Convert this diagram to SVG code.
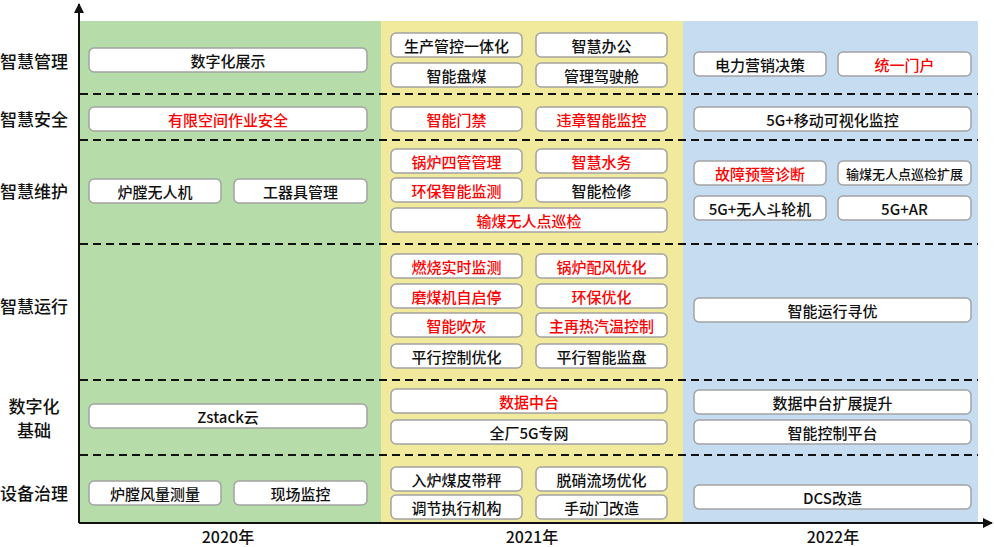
<svg xmlns="http://www.w3.org/2000/svg" width="994" height="547" viewBox="0 0 994 547">
<defs>
<style>
.bx{fill:#fff;stroke:#a3a3a3;stroke-width:1.5}
.t{font-family:"Noto Sans CJK SC","Noto Sans",sans-serif;font-size:15px;font-weight:500;text-anchor:middle;dominant-baseline:central;fill:#111}
.r{fill:#ff0000}
.s{font-size:13px}
.lab{font-family:"Noto Sans CJK SC","Noto Sans",sans-serif;font-size:17px;font-weight:500;text-anchor:middle;dominant-baseline:central;fill:#111}
.yr{font-family:"Noto Sans CJK SC","Noto Sans",sans-serif;font-size:16px;font-weight:500;text-anchor:middle;dominant-baseline:central;fill:#111}
.dash{stroke:#111;stroke-width:2;stroke-dasharray:8 5;fill:none}
.ax{stroke:#111;stroke-width:2;fill:none}
</style>
<marker id="arr" viewBox="0 0 10 10" refX="9" refY="5" markerWidth="5" markerHeight="5" orient="auto">
<path d="M0,0 L10,5 L0,10 z" fill="#111"/>
</marker>
</defs>
<rect width="994" height="547" fill="#fff"/>
<g id="backgrounds">
<rect x="80" y="21" width="301" height="502" fill="#b6dca9"/>
<rect x="381" y="21" width="302" height="502" fill="#f1ea9c"/>
<rect x="683" y="21" width="295" height="502" fill="#c6ddf1"/>
</g>
<g id="separators">
<line class="dash" x1="80" y1="94" x2="978" y2="94"/>
<line class="dash" x1="80" y1="140" x2="978" y2="140"/>
<line class="dash" x1="80" y1="244" x2="978" y2="244"/>
<line class="dash" x1="80" y1="380" x2="978" y2="380"/>
<line class="dash" x1="80" y1="455" x2="978" y2="455"/>
</g>
<g id="connectors">
<line class="ax" x1="79" y1="523" x2="79" y2="4" marker-end="url(#arr)"/>
<line class="ax" x1="79" y1="523" x2="992" y2="523" marker-end="url(#arr)"/>
</g>
<g id="row-labels">
<text class="lab" x="34" y="60">智慧管理</text>
<text class="lab" x="34" y="118">智慧安全</text>
<text class="lab" x="34" y="190">智慧维护</text>
<text class="lab" x="34" y="305">智慧运行</text>
<text class="lab" x="34" y="405">数字化</text>
<text class="lab" x="34" y="429">基础</text>
<text class="lab" x="34" y="492">设备治理</text>
</g>
<g id="year-labels">
<text class="yr" x="228" y="536">2020年</text>
<text class="yr" x="532" y="536">2021年</text>
<text class="yr" x="833" y="536">2022年</text>
</g>
<g id="n2020-1"><rect class="bx" x="89" y="48" width="278" height="24" rx="5"/><text class="t" x="228" y="60">数字化展示</text></g>
<g id="n2020-2"><rect class="bx" x="89" y="107" width="278" height="24" rx="5"/><text class="t r" x="228" y="119">有限空间作业安全</text></g>
<g id="n2020-3"><rect class="bx" x="89" y="179" width="132" height="24" rx="5"/><text class="t" x="155" y="191">炉膛无人机</text></g>
<g id="n2020-4"><rect class="bx" x="234" y="179" width="133" height="24" rx="5"/><text class="t" x="300.5" y="191">工器具管理</text></g>
<g id="n2020-5"><rect class="bx" x="89" y="404" width="278" height="24" rx="5"/><text class="t" x="228" y="416">Zstack云</text></g>
<g id="n2020-6"><rect class="bx" x="89" y="481" width="132" height="24" rx="5"/><text class="t" x="155" y="493">炉膛风量测量</text></g>
<g id="n2020-7"><rect class="bx" x="234" y="481" width="133" height="24" rx="5"/><text class="t" x="300.5" y="493">现场监控</text></g>

<g id="n2021-1"><rect class="bx" x="391" y="33" width="131" height="24" rx="5"/><text class="t" x="456.5" y="45">生产管控一体化</text></g>
<g id="n2021-2"><rect class="bx" x="536" y="33" width="131" height="24" rx="5"/><text class="t" x="601.5" y="45">智慧办公</text></g>
<g id="n2021-3"><rect class="bx" x="391" y="63" width="131" height="24" rx="5"/><text class="t" x="456.5" y="75">智能盘煤</text></g>
<g id="n2021-4"><rect class="bx" x="536" y="63" width="131" height="24" rx="5"/><text class="t" x="601.5" y="75">管理驾驶舱</text></g>
<g id="n2021-5"><rect class="bx" x="391" y="107" width="131" height="24" rx="5"/><text class="t r" x="456.5" y="119">智能门禁</text></g>
<g id="n2021-6"><rect class="bx" x="536" y="107" width="131" height="24" rx="5"/><text class="t r" x="601.5" y="119">违章智能监控</text></g>
<g id="n2021-7"><rect class="bx" x="391" y="149" width="131" height="24" rx="5"/><text class="t r" x="456.5" y="161">锅炉四管管理</text></g>
<g id="n2021-8"><rect class="bx" x="536" y="149" width="131" height="24" rx="5"/><text class="t r" x="601.5" y="161">智慧水务</text></g>
<g id="n2021-9"><rect class="bx" x="391" y="178" width="131" height="24" rx="5"/><text class="t r" x="456.5" y="190">环保智能监测</text></g>
<g id="n2021-10"><rect class="bx" x="536" y="178" width="131" height="24" rx="5"/><text class="t" x="601.5" y="190">智能检修</text></g>
<g id="n2021-11"><rect class="bx" x="391" y="208" width="276" height="24" rx="5"/><text class="t r" x="529" y="220">输煤无人点巡检</text></g>
<g id="n2021-12"><rect class="bx" x="391" y="254" width="131" height="24" rx="5"/><text class="t r" x="456.5" y="266">燃烧实时监测</text></g>
<g id="n2021-13"><rect class="bx" x="536" y="254" width="131" height="24" rx="5"/><text class="t r" x="601.5" y="266">锅炉配风优化</text></g>
<g id="n2021-14"><rect class="bx" x="391" y="284" width="131" height="24" rx="5"/><text class="t r" x="456.5" y="296">磨煤机自启停</text></g>
<g id="n2021-15"><rect class="bx" x="536" y="284" width="131" height="24" rx="5"/><text class="t r" x="601.5" y="296">环保优化</text></g>
<g id="n2021-16"><rect class="bx" x="391" y="313" width="131" height="24" rx="5"/><text class="t r" x="456.5" y="325">智能吹灰</text></g>
<g id="n2021-17"><rect class="bx" x="536" y="313" width="131" height="24" rx="5"/><text class="t r" x="601.5" y="325">主再热汽温控制</text></g>
<g id="n2021-18"><rect class="bx" x="391" y="344" width="131" height="24" rx="5"/><text class="t" x="456.5" y="356">平行控制优化</text></g>
<g id="n2021-19"><rect class="bx" x="536" y="344" width="131" height="24" rx="5"/><text class="t" x="601.5" y="356">平行智能监盘</text></g>
<g id="n2021-20"><rect class="bx" x="391" y="389" width="276" height="24" rx="5"/><text class="t r" x="529" y="401">数据中台</text></g>
<g id="n2021-21"><rect class="bx" x="391" y="420" width="276" height="24" rx="5"/><text class="t" x="529" y="432">全厂5G专网</text></g>
<g id="n2021-22"><rect class="bx" x="391" y="467" width="131" height="24" rx="5"/><text class="t" x="456.5" y="479">入炉煤皮带秤</text></g>
<g id="n2021-23"><rect class="bx" x="536" y="467" width="131" height="24" rx="5"/><text class="t" x="601.5" y="479">脱硝流场优化</text></g>
<g id="n2021-24"><rect class="bx" x="391" y="495" width="131" height="24" rx="5"/><text class="t" x="456.5" y="507">调节执行机构</text></g>
<g id="n2021-25"><rect class="bx" x="536" y="495" width="131" height="24" rx="5"/><text class="t" x="601.5" y="507">手动门改造</text></g>

<g id="n2022-1"><rect class="bx" x="694" y="52" width="132" height="24" rx="5"/><text class="t" x="760" y="64">电力营销决策</text></g>
<g id="n2022-2"><rect class="bx" x="838" y="52" width="133" height="24" rx="5"/><text class="t r" x="904.5" y="64">统一门户</text></g>
<g id="n2022-3"><rect class="bx" x="694" y="107" width="277" height="24" rx="5"/><text class="t" x="832.5" y="119">5G+移动可视化监控</text></g>
<g id="n2022-4"><rect class="bx" x="694" y="161" width="132" height="24" rx="5"/><text class="t r" x="760" y="173">故障预警诊断</text></g>
<g id="n2022-5"><rect class="bx" x="838" y="161" width="133" height="24" rx="5"/><text class="t s" x="904.5" y="173">输煤无人点巡检扩展</text></g>
<g id="n2022-6"><rect class="bx" x="694" y="196" width="132" height="24" rx="5"/><text class="t" x="760" y="208">5G+无人斗轮机</text></g>
<g id="n2022-7"><rect class="bx" x="838" y="196" width="133" height="24" rx="5"/><text class="t" x="904.5" y="208">5G+AR</text></g>
<g id="n2022-8"><rect class="bx" x="694" y="298" width="277" height="24" rx="5"/><text class="t" x="832.5" y="310">智能运行寻优</text></g>
<g id="n2022-9"><rect class="bx" x="694" y="390" width="277" height="24" rx="5"/><text class="t" x="832.5" y="402">数据中台扩展提升</text></g>
<g id="n2022-10"><rect class="bx" x="694" y="420" width="277" height="24" rx="5"/><text class="t" x="832.5" y="432">智能控制平台</text></g>
<g id="n2022-11"><rect class="bx" x="694" y="485" width="277" height="24" rx="5"/><text class="t" x="832.5" y="497">DCS改造</text></g>
</svg>
